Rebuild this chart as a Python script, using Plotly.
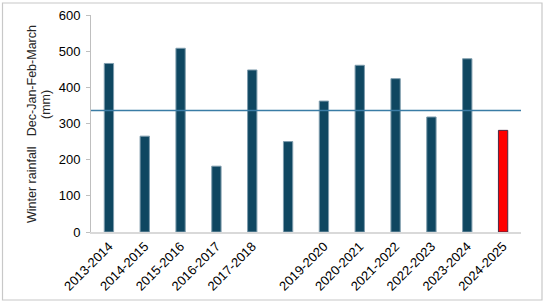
import plotly.graph_objects as go

categories = ["2013-2014", "2014-2015", "2015-2016", "2016-2017", "2017-2018", " ",
              "2019-2020", "2020-2021", "2021-2022", "2022-2023", "2023-2024", "2024-2025"]
rainfall = [466, 265, 508, 182, 448, 250, 362, 461, 424, 318, 479, 281]
reference_level = 336
y_ticks = [0, 100, 200, 300, 400, 500, 600]

bar_colors = ["#0F4761"] * (len(categories) - 1) + ["#FF0000"]
line_colors = ["#7E9CAD"] * (len(categories) - 1) + ["#4A2A45"]

fig = go.Figure()
fig.add_trace(go.Bar(
    x=categories, y=rainfall,
    marker=dict(color=bar_colors, line=dict(color=line_colors, width=1)),
    width=0.26,
))

W, H = 547, 303
L, R, T, B = 91, 26, 15, 71
pw, ph = W - L - R, H - T - B

fig.add_shape(type="line", xref="paper", yref="y", x0=0, x1=1,
              y0=reference_level, y1=reference_level,
              line=dict(color="#3A7CA5", width=1.3))

def px(x):
    return (x - L) / pw
def py(y):
    return (H - B - y) / ph
fig.add_shape(type="rect", xref="paper", yref="paper",
              x0=px(2.5), x1=px(542), y0=py(3), y1=py(300),
              line=dict(color="#C8C8C8", width=1.2), layer="below")

font = "Liberation Sans, Arial, sans-serif"
fig.add_annotation(text="Winter rainfall   Dec-Jan-Feb-March", xref="paper", yref="paper",
                   x=px(32), y=py(124), xanchor="center", yanchor="middle",
                   textangle=-90, showarrow=False,
                   font=dict(family=font, size=12.5, color="#262626"))
fig.add_annotation(text="(mm)", xref="paper", yref="paper",
                   x=px(46), y=py(105), xanchor="center", yanchor="middle",
                   textangle=-90, showarrow=False,
                   font=dict(family=font, size=12.5, color="#262626"))

fig.update_layout(
    width=W, height=H,
    margin=dict(l=L, r=R, t=T, b=B, autoexpand=False),
    plot_bgcolor="white", paper_bgcolor="white",
    showlegend=False,
    font=dict(family=font, size=13, color="#262626"),
)
fig.update_xaxes(type="category", tickangle=-45, showline=True, linecolor="#D9D9D9",
                 linewidth=1.5, ticks="", showgrid=False, automargin=False,
                 tickfont=dict(family=font, size=13, color="#000000"))
fig.update_yaxes(range=[0, 600], tickvals=y_ticks, showline=True, linecolor="#BFBFBF",
                 linewidth=1, ticks="outside", ticklen=4, tickcolor="#BFBFBF",
                 showgrid=False, zeroline=False, automargin=False, ticklabelstandoff=3,
                 tickfont=dict(family=font, size=13, color="#000000"))

fig.write_html("out.html")
